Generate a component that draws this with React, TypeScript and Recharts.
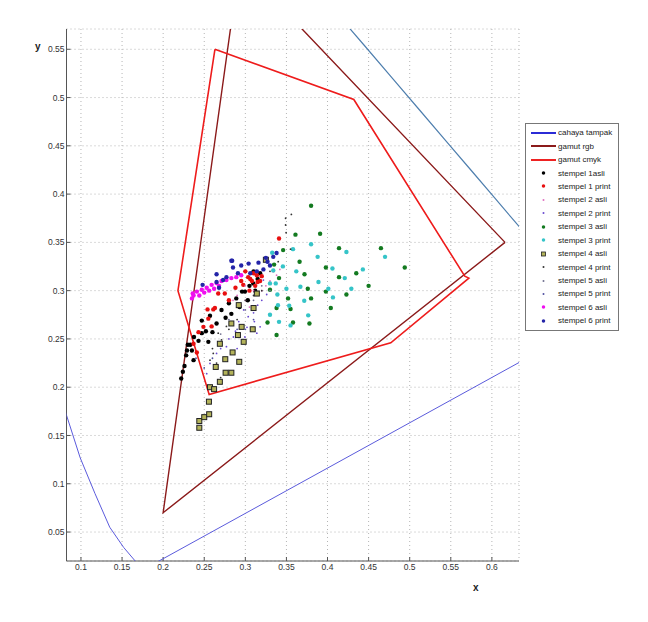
import React from 'react';
import { ScatterChart, Scatter, XAxis, YAxis, CartesianGrid } from 'recharts';

// axis ticks
const xTicks = [0.1, 0.15, 0.2, 0.25, 0.3, 0.35, 0.4, 0.45, 0.5, 0.55, 0.6];
const yTicks = [0.05, 0.1, 0.15, 0.2, 0.25, 0.3, 0.35, 0.4, 0.45, 0.5, 0.55];

// cahaya tampak (spectral locus), lower-left part, purple line, upper-right part
const locusLeft = [[0.07, 0.205], [0.0824, 0.171], [0.099, 0.127], [0.117, 0.09], [0.135, 0.055], [0.152, 0.034], [0.166, 0.02], [0.175, 0.01]];
const purpleLine = [[0.18, 0.013], [0.7, 0.257]];
const locusRight = [[0.3731, 0.6245], [0.4087, 0.5896], [0.4441, 0.5547], [0.4788, 0.5202], [0.5125, 0.4866], [0.5448, 0.4544], [0.5752, 0.4242], [0.6029, 0.3965], [0.627, 0.3725], [0.6482, 0.3514]];

// gamut polygons
const gamutRgb = [[0.616, 0.35], [0.293, 0.639], [0.2, 0.07], [0.616, 0.35]];
const gamutCmyk = [[0.263, 0.55], [0.432, 0.498], [0.567, 0.315], [0.572, 0.313], [0.477, 0.246], [0.256, 0.1925], [0.218, 0.3], [0.263, 0.55]];

// samples
const stempel1Asli = [[0.222, 0.209], [0.224, 0.216], [0.226, 0.222], [0.228, 0.233], [0.229, 0.238], [0.23, 0.244], [0.233, 0.244], [0.235, 0.238], [0.237, 0.228], [0.2375, 0.252], [0.243, 0.248], [0.247, 0.256], [0.247, 0.269], [0.252, 0.258], [0.255, 0.247], [0.257, 0.274], [0.26, 0.257], [0.265, 0.266], [0.271, 0.28], [0.276, 0.272], [0.28, 0.287], [0.283, 0.276], [0.289, 0.292], [0.293, 0.283], [0.2995, 0.299], [0.303, 0.29], [0.3096, 0.3075], [0.312, 0.3], [0.318, 0.318], [0.315, 0.312], [0.305, 0.305], [0.31, 0.32], [0.296, 0.299]];
const stempel1Print = [[0.237, 0.245], [0.241, 0.236], [0.243, 0.257], [0.249, 0.2625], [0.254, 0.2806], [0.255, 0.271], [0.259, 0.263], [0.261, 0.2806], [0.263, 0.282], [0.267, 0.297], [0.275, 0.297], [0.28, 0.29], [0.288, 0.303], [0.2975, 0.306], [0.3035, 0.314], [0.31, 0.318], [0.308, 0.31], [0.315, 0.309], [0.318, 0.31], [0.312, 0.305], [0.305, 0.3], [0.341, 0.354], [0.295, 0.31], [0.3, 0.32], [0.32, 0.315], [0.306, 0.312], [0.314, 0.316]];
const stempel2Asli = [[0.3, 0.305], [0.31, 0.3], [0.315, 0.297], [0.32, 0.3], [0.325, 0.305], [0.33, 0.31], [0.334, 0.3195], [0.338, 0.316], [0.342, 0.322], [0.3, 0.29], [0.295, 0.285], [0.305, 0.283], [0.29, 0.295], [0.285, 0.29]];
const stempel2Print = [[0.253, 0.214], [0.257, 0.2246], [0.265, 0.235], [0.27, 0.24], [0.277, 0.242], [0.2855, 0.252], [0.2995, 0.252], [0.308, 0.26], [0.314, 0.256], [0.318, 0.2625], [0.3035, 0.273], [0.31, 0.277], [0.322, 0.311], [0.33, 0.308], [0.292, 0.268], [0.298, 0.28], [0.32, 0.29], [0.315, 0.285], [0.28, 0.25], [0.29, 0.24], [0.326, 0.296], [0.302, 0.262], [0.311, 0.268], [0.288, 0.258]];
const stempel3Asli = [[0.38, 0.388], [0.361, 0.358], [0.391, 0.359], [0.346, 0.342], [0.414, 0.344], [0.465, 0.344], [0.366, 0.33], [0.372, 0.317], [0.398, 0.324], [0.414, 0.314], [0.435, 0.318], [0.45, 0.305], [0.376, 0.302], [0.352, 0.292], [0.38, 0.292], [0.423, 0.296], [0.398, 0.299], [0.404, 0.282], [0.355, 0.281], [0.338, 0.282], [0.327, 0.267], [0.358, 0.267], [0.378, 0.266], [0.338, 0.254], [0.335, 0.327], [0.341, 0.313], [0.33, 0.301], [0.494, 0.324]];
const stempel3Print = [[0.38, 0.348], [0.358, 0.343], [0.388, 0.335], [0.362, 0.32], [0.406, 0.323], [0.421, 0.313], [0.443, 0.322], [0.47, 0.335], [0.423, 0.34], [0.389, 0.309], [0.367, 0.304], [0.401, 0.302], [0.429, 0.302], [0.35, 0.302], [0.4066, 0.293], [0.3717, 0.2895], [0.339, 0.296], [0.3534, 0.2843], [0.3397, 0.285], [0.33, 0.275], [0.3765, 0.2744], [0.341, 0.2677], [0.355, 0.264], [0.3457, 0.3251], [0.334, 0.321], [0.33, 0.3075], [0.337, 0.3075], [0.3327, 0.3392]];
const stempel4Asli = [[0.244, 0.158], [0.244, 0.165], [0.25, 0.169], [0.256, 0.172], [0.2557, 0.185], [0.257, 0.2], [0.262, 0.198], [0.269, 0.2056], [0.276, 0.215], [0.283, 0.215], [0.2926, 0.2263], [0.2756, 0.229], [0.2845, 0.236], [0.269, 0.245], [0.298, 0.247], [0.283, 0.266], [0.2955, 0.2625], [0.309, 0.26], [0.292, 0.285], [0.31, 0.282], [0.314, 0.297], [0.325, 0.332], [0.264, 0.221], [0.291, 0.254]];
const stempel4Print = [[0.356, 0.379], [0.349, 0.375], [0.349, 0.368], [0.3496, 0.36], [0.355, 0.343], [0.26, 0.24], [0.265, 0.225], [0.27, 0.21], [0.28, 0.26], [0.29, 0.27], [0.3, 0.29], [0.31, 0.295], [0.32, 0.3], [0.33, 0.32], [0.34, 0.33], [0.267, 0.256], [0.271, 0.249], [0.261, 0.235], [0.257, 0.228], [0.277, 0.263]];
const stempel5Asli = [[0.3, 0.28], [0.31, 0.29], [0.28, 0.27], [0.27, 0.255], [0.32, 0.305], [0.33, 0.3]];
const stempel5Print = [[0.24, 0.23], [0.25, 0.22], [0.26, 0.23], [0.29, 0.26], [0.3, 0.26], [0.31, 0.27]];
const stempel6Asli = [[0.235, 0.292], [0.237, 0.295], [0.241, 0.299], [0.247, 0.301], [0.253, 0.303], [0.259, 0.306], [0.265, 0.308], [0.271, 0.31], [0.277, 0.311], [0.283, 0.313], [0.289, 0.314], [0.295, 0.316], [0.236, 0.297], [0.244, 0.295], [0.25, 0.298], [0.256, 0.3], [0.262, 0.302], [0.268, 0.305]];
const stempel6Print = [[0.283, 0.331], [0.285, 0.324], [0.295, 0.326], [0.304, 0.328], [0.316, 0.329], [0.327, 0.33], [0.33, 0.326], [0.322, 0.322], [0.314, 0.32], [0.306, 0.318], [0.291, 0.318], [0.277, 0.314], [0.265, 0.309], [0.268, 0.303], [0.273, 0.311], [0.334, 0.335], [0.338, 0.339], [0.265, 0.317], [0.284, 0.331], [0.325, 0.334], [0.248, 0.306]];

const toPts = (arr: number[][]) => arr.map(([x, y]) => ({ x, y }));

const dot = (r: number, fill: string) => (p: any) => <circle cx={p.cx} cy={p.cy} r={r} fill={fill} />;
const square = (p: any) => <rect x={p.cx - 2.5} y={p.cy - 2.5} width={5} height={5} fill="#b3b35a" stroke="#222" strokeWidth={1} />;
const noShape = () => <g />;

const LINES = [
  { name: 'cahaya tampak', color: '#2b2bd6' },
  { name: 'gamut rgb', color: '#8b1a1a' },
  { name: 'gamut cmyk', color: '#ee2222' },
];
const POINTS = [
  { name: 'stempel 1asli', data: stempel1Asli, color: '#000000', r: 2.2 },
  { name: 'stempel 1 print', data: stempel1Print, color: '#e81010', r: 2.2 },
  { name: 'stempel 2 asli', data: stempel2Asli, color: '#e070c0', r: 0.9 },
  { name: 'stempel 2 print', data: stempel2Print, color: '#6a4ad0', r: 0.9 },
  { name: 'stempel 3 asli', data: stempel3Asli, color: '#137a20', r: 2.2 },
  { name: 'stempel 3 print', data: stempel3Print, color: '#35c4c8', r: 2.2 },
  { name: 'stempel 4 asli', data: stempel4Asli, color: '#b3b35a', r: 0 },
  { name: 'stempel 4 print', data: stempel4Print, color: '#333333', r: 0.9 },
  { name: 'stempel 5 asli', data: stempel5Asli, color: '#707090', r: 0.9 },
  { name: 'stempel 5 print', data: stempel5Print, color: '#5050a0', r: 0.9 },
  { name: 'stempel 6 asli', data: stempel6Asli, color: '#f010f0', r: 2.2 },
  { name: 'stempel 6 print', data: stempel6Print, color: '#2424a8', r: 2.2 },
];

const font = '"Liberation Sans", Arial, sans-serif';
const axisColor = '#555';

const LegendBox = () => (
  <div style={{ position: 'absolute', left: 517, top: 115, width: 92, border: '1px solid #777', background: '#fff', padding: '2px 0', fontFamily: font, fontSize: 8, color: '#222' }}>
    {LINES.map(l => (
      <div key={l.name} style={{ display: 'flex', alignItems: 'center', height: 13.45 }}>
        <svg width={32} height={6}><line x1={5} x2={30} y1={3} y2={3} stroke={l.color} strokeWidth={2} /></svg>
        <span>{l.name}</span>
      </div>
    ))}
    {POINTS.map(s => (
      <div key={s.name} style={{ display: 'flex', alignItems: 'center', height: 13.45 }}>
        <svg width={32} height={6}>
          {s.r === 0
            ? <rect x={15.5} y={1} width={4} height={4} fill={s.color} stroke="#222" strokeWidth={0.8} />
            : <circle cx={17.5} cy={3} r={Math.max(s.r * 0.8, 1)} fill={s.color} />}
        </svg>
        <span>{s.name}</span>
      </div>
    ))}
  </div>
);

export default function App() {
  return (
    <div style={{ position: 'relative', width: 632, height: 600, fontFamily: font }}>
      <ScatterChart width={632} height={600} margin={{ top: 21, right: 121, bottom: 17, left: 0 }}>
        <CartesianGrid stroke="#b5b5b5" strokeDasharray="1 3" />
        <XAxis type="number" dataKey="x" domain={[0.0824, 0.633]} ticks={xTicks} allowDataOverflow
          height={30} tickSize={-4} tickMargin={7} interval={0}
          tick={{ fontSize: 8.5, fill: '#333', fontFamily: font }}
          axisLine={{ stroke: axisColor }} tickLine={{ stroke: axisColor }} />
        <XAxis xAxisId="top" orientation="top" type="number" dataKey="x" domain={[0.0824, 0.633]} ticks={xTicks} allowDataOverflow
          height={0} tickSize={-4} tick={false} interval={0}
          axisLine={{ stroke: axisColor }} tickLine={{ stroke: axisColor }} />
        <YAxis type="number" dataKey="y" domain={[0.02, 0.571]} ticks={yTicks} allowDataOverflow
          width={58.5} tickSize={-4} tickMargin={6} interval={0}
          tick={{ fontSize: 8.5, fill: '#333', fontFamily: font }}
          axisLine={{ stroke: axisColor }} tickLine={{ stroke: axisColor }} />
        <YAxis yAxisId="right" orientation="right" type="number" dataKey="y" domain={[0.02, 0.571]} ticks={yTicks} allowDataOverflow
          width={0} tickSize={-4} tick={false} interval={0}
          axisLine={{ stroke: axisColor }} tickLine={{ stroke: axisColor }} />

        <Scatter name="locus left" data={toPts(locusLeft)} line={{ stroke: '#5b5bdc', strokeWidth: 1 }} shape={noShape} isAnimationActive={false} />
        <Scatter name="purple line" data={toPts(purpleLine)} line={{ stroke: '#5b5bdc', strokeWidth: 1 }} shape={noShape} isAnimationActive={false} />
        <Scatter name="locus right" data={toPts(locusRight)} line={{ stroke: '#4f7fae', strokeWidth: 1.2 }} shape={noShape} isAnimationActive={false} />
        <Scatter name="gamut rgb" data={toPts(gamutRgb)} line={{ stroke: '#8b1a1a', strokeWidth: 1.4 }} shape={noShape} isAnimationActive={false} />
        <Scatter name="gamut cmyk" data={toPts(gamutCmyk)} line={{ stroke: '#ee1c1c', strokeWidth: 1.6 }} shape={noShape} isAnimationActive={false} />

        {POINTS.map(s => (
          <Scatter key={s.name} name={s.name} data={toPts(s.data)}
            shape={s.r === 0 ? square : dot(s.r, s.color)} isAnimationActive={false} />
        ))}
      </ScatterChart>
      <LegendBox />
      <span style={{ position: 'absolute', left: 27, top: 33, fontSize: 10, fontWeight: 'bold', color: '#222' }}>y</span>
      <span style={{ position: 'absolute', left: 465, top: 574, fontSize: 10, fontWeight: 'bold', color: '#222' }}>x</span>
    </div>
  );
}
